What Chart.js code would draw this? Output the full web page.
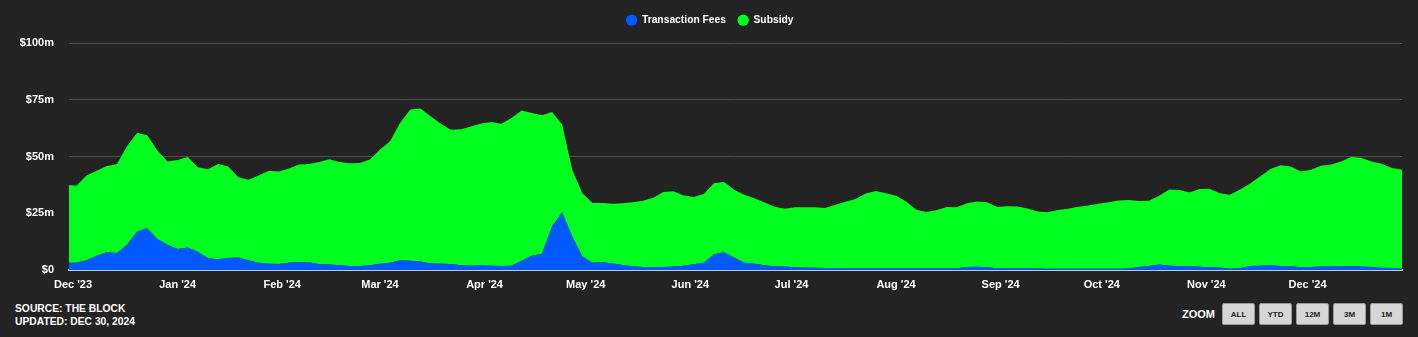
<!DOCTYPE html>
<html>
<head>
<meta charset="utf-8">
<title>Bitcoin Miner Revenue</title>
<script src="https://cdn.jsdelivr.net/npm/chart.js@4.4.1/dist/chart.umd.min.js"></script>
<style>
    body { margin: 0; background: #232323; font-family: "Liberation Sans", Arial, sans-serif; }
    #wrap { position: relative; width: 1418px; height: 337px; overflow: hidden; }
    #revenue-chart { position: absolute; left: 0; top: 0; }
    .source { position: absolute; left: 15px; top: 302px; color: #fff; font-weight: bold; font-size: 10.3px; line-height: 13px; }
    .zoom { position: absolute; left: 1182px; top: 303px; display: flex; align-items: center; }
    .zoom span { color: #fff; font-weight: bold; font-size: 11px; width: 40px; }
    .zoom button {
        width: 33px; height: 22px; margin-right: 4px; padding: 0;
        background: #d6d6d6; border: 1px solid #9a9a9a; border-radius: 2px;
        color: #222; font-weight: bold; font-size: 8px; font-family: "Liberation Sans", Arial, sans-serif;
    }
</style>
</head>
<body>
<div id="wrap">
    <canvas id="revenue-chart" width="1418" height="300"></canvas>
    <div class="source">SOURCE: THE BLOCK<br>UPDATED: DEC 30, 2024</div>
    <div class="zoom">
        <span>ZOOM</span>
        <button>ALL</button><button>YTD</button><button>12M</button><button>3M</button><button>1M</button>
    </div>
</div>
<script>
// days counted from Dec 1 2023, one reading every 3 days
const startDay = -2;
const stepDays = 3;

// $m per day
const fees = [
    3.2, 3.2, 4.3, 6.3, 7.8, 7.5, 11.1, 17.0, 18.4, 13.7, 11.1, 9.3, 9.9, 8.1, 5.2, 4.7, 5.3, 5.5, 4.3, 3.2,
    2.8, 2.7, 3.2, 3.5, 3.4, 2.5, 2.4, 2.1, 1.8, 1.8, 2.1, 2.8, 3.2, 4.3, 4.1, 3.7, 2.9, 2.8, 2.7,
    2.1, 1.9, 2.1, 1.9, 1.8, 1.9, 4.1, 6.3, 7.2, 19.2, 25.5, 14.7, 6.0, 3.2, 3.4, 2.9, 2.2, 1.6, 1.3,
    1.2, 1.3, 1.5, 1.9, 2.5, 3.2, 6.9, 7.8, 5.5, 3.2, 2.8, 2.1, 1.6, 1.5, 1.2, 1.0, 1.0, 0.9, 0.9,
    0.8, 0.8, 0.8, 0.8, 0.8, 0.8, 0.8, 0.8, 0.8, 0.8, 0.8, 0.8, 1.3, 1.4, 1.2, 0.8, 0.8, 0.8, 0.8, 0.7,
    0.6, 0.6, 0.6, 0.6, 0.6, 0.6, 0.6, 0.6, 0.7, 1.3, 1.8, 2.4, 1.9, 1.8, 1.6, 1.4, 1.2, 1.1, 0.5,
    0.9, 1.8, 1.9, 2.1, 1.8, 1.6, 1.2, 1.3, 1.5, 1.5, 1.6, 1.6, 1.5, 1.3, 1.0, 0.9, 0.6
];

const subsidy = [
    34.4, 34.0, 37.4, 37.5, 38.1, 39.2, 43.5, 43.5, 41.0, 39.0, 36.8, 39.2, 40.0, 37.2, 39.2, 42.1, 40.4, 35.4, 35.5, 38.5,
    41.0, 40.8, 41.6, 43.0, 43.4, 45.1, 46.4, 45.5, 45.3, 45.4, 46.6, 50.3, 53.6, 60.6, 66.7, 67.5, 64.9, 61.7, 59.2,
    60.0, 61.4, 62.5, 63.4, 62.7, 65.2, 66.3, 63.0, 61.1, 50.5, 38.7, 29.5, 27.9, 26.4, 26.2, 26.3, 27.2, 28.3, 29.2,
    30.7, 33.1, 33.2, 31.0, 29.7, 30.3, 31.4, 31.0, 29.9, 30.0, 28.9, 27.7, 26.3, 25.5, 26.5, 26.7, 26.7, 26.5, 27.9,
    29.3, 30.5, 33.0, 34.0, 33.1, 31.9, 29.4, 25.8, 24.8, 25.6, 27.0, 26.9, 28.1, 28.8, 28.7, 27.0, 27.3, 27.2, 26.3, 25.1,
    24.9, 25.9, 26.4, 27.3, 27.9, 28.6, 29.3, 30.1, 30.2, 29.1, 28.7, 30.3, 33.6, 33.5, 32.6, 34.3, 34.6, 32.8, 32.7,
    34.6, 36.4, 39.4, 42.4, 44.4, 44.1, 42.3, 42.9, 44.5, 45.0, 46.3, 48.4, 47.9, 46.6, 45.9, 44.1, 43.6
];

const monthStarts = [0, 31, 62, 91, 122, 152, 183, 213, 244, 275, 305, 336, 366];
const monthLabels = ["Dec '23", "Jan '24", "Feb '24", "Mar '24", "Apr '24", "May '24", "Jun '24",
                     "Jul '24", "Aug '24", "Sep '24", "Oct '24", "Nov '24", "Dec '24"];
const yTicks = [0, 25, 50, 75, 100];

function toPoints(values) {
    return values.map((v, i) => ({x: startDay + i * stepDays, y: v}));
}

// leaves some room under the legend and centres it on the page, not the plot
const legendSpacer = {
    id: 'legendSpacer',
    beforeInit(chart) {
        const fit = chart.legend.fit;
        chart.legend.fit = function () {
            fit.bind(chart.legend)();
            this.height += 8;
        };
    },
    afterLayout(chart) {
        chart.legend.left += 9;
        chart.legend.right += 9;
    }
};

function loadRevenueChart() {
    const ctx = document.getElementById('revenue-chart').getContext('2d');
    const tickFont = {family: '"Liberation Sans", Arial, sans-serif', size: 11, weight: 'bold'};
    new Chart(ctx, {
        type: 'line',
        data: {
            datasets: [{
                label: 'Transaction Fees',
                data: toPoints(fees),
                backgroundColor: '#0058ff',
                borderColor: '#0058ff',
                borderWidth: 0,
                pointRadius: 0,
                fill: 'origin',
                tension: 0
            }, {
                label: 'Subsidy',
                data: toPoints(subsidy),
                backgroundColor: '#00ff1e',
                borderColor: '#00ff1e',
                borderWidth: 0,
                pointRadius: 0,
                fill: '-1',
                tension: 0
            }]
        },
        options: {
            responsive: false,
            animation: false,
            layout: {padding: {left: 0, right: 16, top: 3, bottom: 0}},
            plugins: {
                tooltip: {enabled: false},
                legend: {
                    position: 'top',
                    labels: {
                        color: '#ffffff',
                        font: {family: '"Liberation Sans", Arial, sans-serif', size: 10.3, weight: 'bold'},
                        usePointStyle: true,
                        pointStyle: 'circle',
                        boxWidth: 11,
                        boxHeight: 8,
                        padding: 12
                    }
                }
            },
            scales: {
                x: {
                    type: 'linear',
                    min: -1.2,
                    max: 394,
                    grid: {display: false, drawTicks: false},
                    border: {color: '#c8c8c8', width: 2},
                    afterBuildTicks: (scale) => {
                        scale.ticks = monthStarts.map((d) => ({value: d}));
                    },
                    afterFit: (scale) => { scale.height = 30; },
                    ticks: {
                        color: '#ffffff',
                        font: tickFont,
                        padding: 8,
                        maxRotation: 0,
                        autoSkip: false,
                        callback: (value) => monthLabels[monthStarts.indexOf(value)]
                    }
                },
                y: {
                    stacked: true,
                    min: 0,
                    max: 100,
                    grid: {color: '#4d4d4d', drawTicks: false},
                    border: {display: false},
                    afterBuildTicks: (scale) => {
                        scale.ticks = yTicks.map((v) => ({value: v}));
                    },
                    afterFit: (scale) => { scale.width = 69; },
                    ticks: {
                        color: '#ffffff',
                        font: tickFont,
                        padding: 15,
                        callback: (value) => value === 0 ? '$0' : '$' + value + 'm'
                    }
                }
            }
        },
        plugins: [legendSpacer]
    });
}

window.addEventListener("load", () => {
    loadRevenueChart();
});
</script>
</body>
</html>
